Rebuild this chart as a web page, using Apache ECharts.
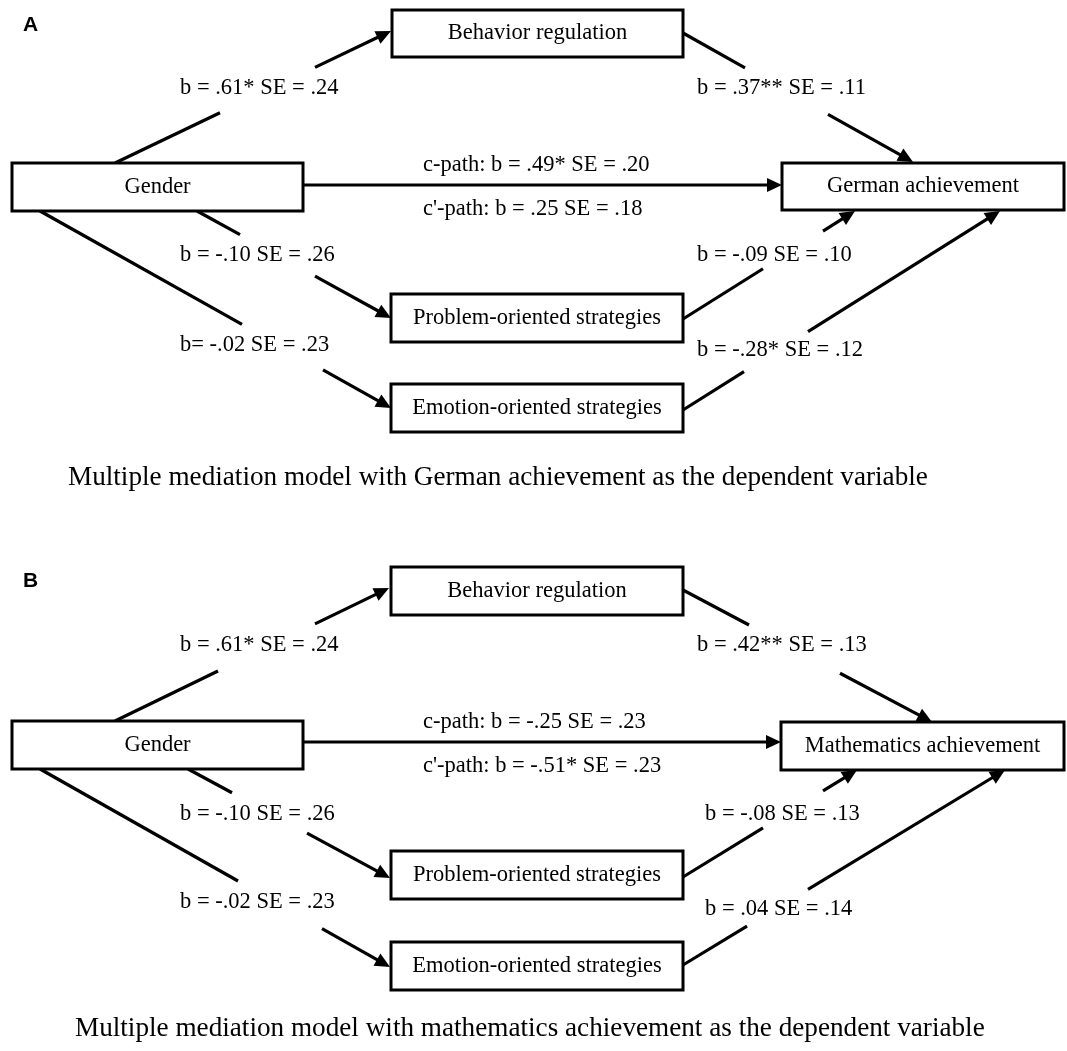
<!DOCTYPE html>
<html><head><meta charset="utf-8">
<script src="https://cdn.jsdelivr.net/npm/echarts@6/dist/echarts.min.js"></script>
<style>html,body{margin:0;padding:0;background:#fff}#c{width:1067px;height:1051px}</style>
</head><body><div id="c"></div>
<script>
// ================= DATA =================
const panelLetters = ['A', 'B'];
const nodeNamesA = ['Behavior regulation', 'Gender', 'German achievement', 'Problem-oriented strategies', 'Emotion-oriented strategies'];
const nodeNamesB = ['Behavior regulation', 'Gender', 'Mathematics achievement', 'Problem-oriented strategies', 'Emotion-oriented strategies'];
// path labels: a1, b1, c, c', a2, b2, a3, b3
const pathLabelsA = ['b = .61* SE = .24', 'b = .37** SE = .11', 'c-path: b = .49* SE = .20', "c'-path: b = .25 SE = .18",
  'b = -.10 SE = .26', 'b = -.09 SE = .10', 'b= -.02 SE = .23', 'b = -.28* SE = .12'];
const pathLabelsB = ['b = .61* SE = .24', 'b = .42** SE = .13', 'c-path: b = -.25 SE = .23', "c'-path: b = -.51* SE = .23",
  'b = -.10 SE = .26', 'b = -.08 SE = .13', 'b = -.02 SE = .23', 'b = .04 SE = .14'];
const captions = ['Multiple mediation model with German achievement as the dependent variable',
  'Multiple mediation model with mathematics achievement as the dependent variable'];

// ================= LAYOUT (pixel space of the hidden axes) =================
const W = 1067, H = 1051;
const letterPos = [[23, 32], [23, 588]];
const nodeBoxesA = [[392, 10, 683, 57], [12, 163, 303, 211], [782, 163, 1064, 210], [391, 294, 683, 342], [391, 384, 683, 432]];
const nodeBoxesB = [[391, 567, 683, 615], [12, 721, 303, 769], [781, 722, 1064, 770], [391, 851, 683, 899], [391, 942, 683, 990]];
// edges: x0,y0 -> x1,y1 with gap between x=g0 and x=g1 (null = no gap)
const edgeLayoutA = [[115, 163, 391, 31, 220, 315], [683, 33, 913, 162, 745, 828], [303, 185, 782, 185, null, null],
  [197, 211, 391, 318, 240, 315], [40, 211, 391, 408, 242, 323], [683, 319, 855, 211, 763, 823], [683, 410, 1000, 211, 744, 808]];
const edgeLayoutB = [[115, 721, 389, 588, 218, 315], [683, 590, 932, 722, 749, 840], [303, 742, 781, 742, null, null],
  [188, 769, 390, 878, 232, 307], [40, 769, 390, 967, 238, 322], [683, 877, 857, 770, 763, 823], [683, 965, 1005, 770, 747, 808]];
// label left x, baseline y
const labelPosA = [[180, 96], [697, 96], [423, 173], [423, 217], [180, 263], [697, 263], [180, 353], [697, 358]];
const labelPosB = [[180, 653], [697, 653], [423, 730], [423, 774], [180, 822], [705, 822], [180, 910], [705, 917]];
const captionPos = [[68, 487], [75, 1038]];

const SERIF = "'Liberation Serif', 'Times New Roman', serif";
const SANS = "'Liberation Sans', Arial, sans-serif";
const LABEL_FS = 22.5, CAPTION_FS = 27.2, LETTER_FS = 21;

// ----- build item lists -----
const boxes = [];
nodeBoxesA.forEach((b, i) => boxes.push({ b, text: nodeNamesA[i] }));
nodeBoxesB.forEach((b, i) => boxes.push({ b, text: nodeNamesB[i] }));
const edges = edgeLayoutA.concat(edgeLayoutB);
const texts = [];
pathLabelsA.forEach((t, i) => texts.push({ t, p: labelPosA[i], fs: LABEL_FS, font: SERIF, w: 'normal' }));
pathLabelsB.forEach((t, i) => texts.push({ t, p: labelPosB[i], fs: LABEL_FS, font: SERIF, w: 'normal' }));
captions.forEach((t, i) => texts.push({ t, p: captionPos[i], fs: CAPTION_FS, font: SERIF, w: 'normal' }));
panelLetters.forEach((t, i) => texts.push({ t, p: letterPos[i], fs: LETTER_FS, font: SANS, w: 'bold' }));

function renderEdge(params, api) {
  const e = edges[params.dataIndex];
  const p0 = api.coord([e[0], e[1]]), p1 = api.coord([e[2], e[3]]);
  const dx = p1[0] - p0[0], dy = p1[1] - p0[1];
  const len = Math.sqrt(dx * dx + dy * dy);
  const ux = dx / len, uy = dy / len;
  const L = 15, HW = 7;
  const base = [p1[0] - ux * L, p1[1] - uy * L];
  const children = [];
  const lineStyle = { stroke: '#000', lineWidth: 3.2 };
  if (e[4] != null) {
    const g0 = api.coord([e[4], e[1] + (e[3] - e[1]) * (e[4] - e[0]) / (e[2] - e[0])]);
    const g1 = api.coord([e[5], e[1] + (e[3] - e[1]) * (e[5] - e[0]) / (e[2] - e[0])]);
    children.push({ type: 'line', shape: { x1: p0[0], y1: p0[1], x2: g0[0], y2: g0[1] }, style: lineStyle });
    children.push({ type: 'line', shape: { x1: g1[0], y1: g1[1], x2: base[0] + ux, y2: base[1] + uy }, style: lineStyle });
  } else {
    children.push({ type: 'line', shape: { x1: p0[0], y1: p0[1], x2: base[0] + ux, y2: base[1] + uy }, style: lineStyle });
  }
  children.push({ type: 'polygon', shape: { points: [p1, [base[0] - uy * HW, base[1] + ux * HW], [base[0] + uy * HW, base[1] - ux * HW]] }, style: { fill: '#000' } });
  return { type: 'group', children };
}

function renderBox(params, api) {
  const bx = boxes[params.dataIndex];
  const a = api.coord([bx.b[0], bx.b[1]]), c = api.coord([bx.b[2], bx.b[3]]);
  return {
    type: 'group', children: [
      { type: 'rect', shape: { x: a[0], y: a[1], width: c[0] - a[0], height: c[1] - a[1] }, style: { fill: '#fff', stroke: '#000', lineWidth: 3 } },
      { type: 'text', style: { text: bx.text, x: (a[0] + c[0]) / 2, y: (a[1] + c[1]) / 2, align: 'center', verticalAlign: 'middle', fontSize: LABEL_FS, fontFamily: SERIF, fill: '#000' } }
    ]
  };
}

function renderText(params, api) {
  const t = texts[params.dataIndex];
  const p = api.coord(t.p);
  return { type: 'text', style: { text: t.t, x: p[0], y: p[1] - t.fs * 0.33, align: 'left', verticalAlign: 'middle', fontSize: t.fs, fontFamily: t.font, fontWeight: t.w, fill: '#000' } };
}

const chart = echarts.init(document.getElementById('c'), null, { renderer: 'canvas' });
chart.setOption({
  animation: false,
  backgroundColor: '#fff',
  grid: { left: 0, right: 0, top: 0, bottom: 0 },
  xAxis: { type: 'value', min: 0, max: W, show: false },
  yAxis: { type: 'value', min: 0, max: H, inverse: true, show: false },
  series: [
    { type: 'custom', name: 'paths', renderItem: renderEdge, clip: false, data: edges.map(e => [e[0], e[1]]), silent: true },
    { type: 'custom', name: 'variables', renderItem: renderBox, clip: false, data: boxes.map(b => [b.b[0], b.b[1]]), silent: true },
    { type: 'custom', name: 'labels', renderItem: renderText, clip: false, data: texts.map(t => t.p), silent: true }
  ]
});
</script></body></html>
